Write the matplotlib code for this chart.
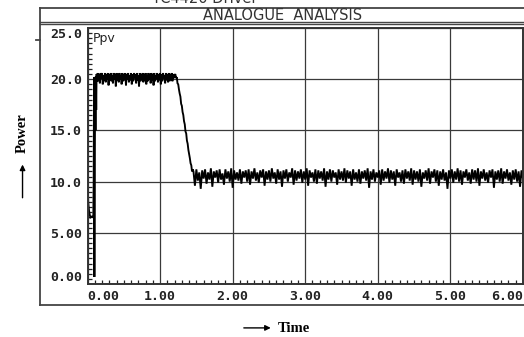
import numpy as np
import matplotlib.pyplot as plt
from matplotlib.lines import Line2D
from matplotlib.ticker import MultipleLocator

# start-up transient
t_start = [0.0, 0.005, 0.01, 0.02, 0.03, 0.04, 0.06, 0.08, 0.085, 0.09, 0.095,
           0.10, 0.105, 0.11, 0.115, 0.12, 0.125, 0.13]
p_start = [0.0, 9.0, 8.0, 7.2, 6.8, 6.5, 6.6, 6.5, 10.0, 20.2, 0.7,
           13.0, 19.5, 15.0, 20.3, 17.0, 20.5, 19.8]

# first plateau, 0.14 .. 1.20 s
p_high = [20.6, 19.8, 20.5, 19.6, 20.6, 20.1, 20.6, 19.5, 20.4, 19.9,
          20.6, 19.7, 20.5, 20.0, 20.6, 19.4, 20.5, 19.9, 20.6, 19.8,
          20.4, 19.6, 20.6, 20.0, 20.5, 19.3, 20.6, 19.9, 20.5, 19.7,
          20.6, 20.0, 20.4, 19.5, 20.6, 19.8, 20.5, 19.9, 20.6, 19.4,
          20.5, 20.0, 20.6, 19.7, 20.4, 19.9, 20.6, 19.5, 20.5, 19.8,
          20.6, 20.1, 20.5, 19.6, 20.6, 19.9, 20.4, 19.3, 20.6, 19.8,
          20.5, 20.0, 20.6, 19.7, 20.5, 19.9, 20.6, 19.5, 20.4, 19.8,
          20.6, 20.0, 20.5, 19.6, 20.6, 19.9, 20.5, 19.4, 20.6, 19.8,
          20.4, 20.0, 20.6, 19.7, 20.5, 19.9, 20.6, 19.5, 20.5, 19.8,
          20.6, 20.1, 20.4, 19.6, 20.6, 19.9, 20.5, 19.7, 20.6, 19.8,
          20.5, 20.0, 20.6, 19.8, 20.5, 20.1, 20.4]

# fall, 1.21 .. 1.45 s
p_fall = [20.5, 20.1, 20.2, 19.6, 19.5, 19.0, 18.6, 18.3, 17.6, 17.4, 16.8, 16.5,
          15.9, 15.6, 14.9, 14.7, 14.0, 13.7, 13.1, 12.7, 12.3, 11.8, 11.6, 11.0, 11.2]

# second plateau, 1.46 .. 6.00 s
p_low = [11.0, 9.6, 11.2, 10.1, 10.9, 9.3, 11.1, 10.3, 11.2, 9.8, 10.9, 10.2, 11.3, 9.5, 11.0, 10.4, 11.1, 9.9, 11.2,
         10.2, 10.8, 9.7, 11.2, 10.3, 11.0, 10.0, 11.3, 9.4, 11.1, 10.2, 10.9, 10.1, 11.2, 9.8, 11.0, 10.4, 11.1, 10.0,
         11.2, 9.7, 11.0, 10.3, 11.3, 10.1, 10.9, 9.9, 11.1, 10.4, 11.2, 9.6, 11.0, 10.2, 11.1, 10.0, 11.3, 10.3, 10.9,
         9.8, 11.2, 10.2, 11.0, 9.5, 11.1, 10.3, 11.2, 10.0, 10.9, 10.4, 11.3, 9.7, 11.1, 10.1, 11.0, 10.3, 11.2, 9.9,
         11.0, 10.2, 11.3, 9.6, 11.1, 10.4, 10.9, 10.0, 11.2, 9.8, 11.1, 10.3, 11.0, 10.1, 11.3, 9.5, 11.0, 10.2, 11.2,
         10.0, 11.1, 10.4, 10.9, 9.7, 11.2, 10.2, 11.0, 10.1, 11.3, 9.9, 11.1, 10.3, 11.0, 9.6, 11.2, 10.2, 10.9, 10.0,
         11.2, 9.8, 11.0, 10.3, 11.1, 10.1, 11.3, 9.4, 11.0, 10.2, 11.2, 10.0, 10.9, 10.4, 11.1, 9.7, 11.2, 10.1, 11.0,
         10.3, 11.3, 9.9, 11.1, 10.2, 11.0, 9.6, 11.2, 10.4, 10.9, 10.0, 11.1, 9.8, 11.2, 10.3, 11.0, 10.1, 11.3, 9.7,
         11.1, 10.2, 11.0, 10.0, 11.2, 9.5, 10.9, 10.3, 11.1, 10.1, 11.3, 9.8, 11.0, 10.4, 11.2, 10.0, 11.1, 9.6, 11.0,
         10.2, 11.2, 10.1, 10.9, 9.3, 11.1, 10.3, 11.2, 9.9, 11.0, 10.2, 11.3, 10.0, 11.1, 9.7, 11.0, 10.4, 11.2, 10.1,
         10.9, 9.8, 11.2, 10.2, 11.1, 10.0, 11.3, 9.6, 11.0, 10.3, 11.2, 10.1, 10.9, 9.9, 11.1, 10.4, 11.2, 9.4, 11.0,
         10.2, 11.1, 10.0, 11.3, 9.8, 11.0, 10.3, 11.2, 10.1, 10.9, 9.7, 11.1, 10.2, 11.2, 10.0, 11.0, 9.5, 11.1, 10.3]

x_ticks = [0, 1, 2, 3, 4, 5, 6]
x_labels = ["0.00", "1.00", "2.00", "3.00", "4.00", "5.00", "6.00"]
y_ticks = [0, 5, 10, 15, 20, 25]
y_labels = ["0.00", "5.00", "10.0", "15.0", "20.0", "25.0"]

t = np.concatenate([t_start,
                    np.linspace(0.14, 1.20, len(p_high)),
                    np.linspace(1.21, 1.45, len(p_fall)),
                    np.linspace(1.46, 6.00, len(p_low))])
p = np.concatenate([p_start, p_high, p_fall, p_low])

fig = plt.figure(figsize=(5.24, 3.37), dpi=100)
ax = fig.add_axes([0.167, 0.157, 0.831, 0.760])

ax.plot(t, p, color='black', lw=1.35, solid_joinstyle='miter')
ax.set_xlim(0, 6)
ax.set_ylim(0, 25)

grid_c = '#3a3a3a'
ax.set_xticks(x_ticks)
ax.set_yticks(y_ticks)
ax.grid(True, color=grid_c, lw=0.9)
ax.xaxis.set_minor_locator(MultipleLocator(0.1))
ax.yaxis.set_minor_locator(MultipleLocator(0.5))
ax.tick_params(which='major', length=0)
ax.tick_params(which='minor', direction='in', length=3, width=0.9, color='#222222')
ax.tick_params(axis='y', which='minor', left=True, right=False)
ax.tick_params(axis='x', which='minor', bottom=True, top=False)
for s in ax.spines.values():
    s.set_color('#333333')
    s.set_linewidth(1.4)

mono = dict(family='DejaVu Sans Mono', fontsize=9.5, fontweight='bold', color='#222222')
ax.set_xticklabels(x_labels, **mono)
ax.set_yticklabels(y_labels, **mono)
ax.tick_params(axis='x', pad=4)
ax.tick_params(axis='y', pad=4)
xl = ax.get_xticklabels()
xl[0].set_horizontalalignment('left')
xl[-1].set_horizontalalignment('right')
yl = ax.get_yticklabels()
yl[0].set_verticalalignment('bottom')
yl[-1].set_verticalalignment('top')

ax.text(0.012, 0.985, "Ppv", transform=ax.transAxes, ha='left', va='top',
        family='DejaVu Sans', fontsize=9, color='#222222')

# outer instrument frame and title bar
fr = '#444444'
fig.add_artist(Line2D([0.076, 0.076], [0.095, 0.976], color=fr, lw=1.3))
fig.add_artist(Line2D([0.076, 1.0], [0.095, 0.095], color=fr, lw=1.3))
fig.add_artist(Line2D([0.076, 1.0], [0.976, 0.976], color=fr, lw=1.3))
fig.add_artist(Line2D([0.076, 1.0], [0.935, 0.935], color=fr, lw=1.0))
fig.add_artist(Line2D([0.076, 1.0], [0.929, 0.929], color=fr, lw=1.0))
fig.add_artist(Line2D([0.068, 0.076], [0.881, 0.881], color=fr, lw=1.3))

fig.text(0.54, 0.953, "ANALOGUE  ANALYSIS", ha='center', va='center',
         family='DejaVu Sans', fontsize=10.5, color='#333333')
fig.text(0.39, 0.982, "TC4420 Driver", ha='center', va='bottom',
         family='DejaVu Sans', fontsize=10.5, color='#333333')

# axis captions
fig.text(0.043, 0.605, "Power", rotation=90, ha='center', va='center',
         family='Liberation Serif', fontweight='bold', fontsize=10.5)
ax.annotate('', xy=(0.043, 0.52), xytext=(0.043, 0.405),
            xycoords='figure fraction',
            arrowprops=dict(arrowstyle='-|>', color='black', lw=1.0, mutation_scale=8))
fig.text(0.560, 0.025, "Time", ha='center', va='center',
         family='Liberation Serif', fontweight='bold', fontsize=10.5)
ax.annotate('', xy=(0.522, 0.027), xytext=(0.460, 0.027),
            xycoords='figure fraction',
            arrowprops=dict(arrowstyle='-|>', color='black', lw=1.0, mutation_scale=8))

fig.savefig("out.png", dpi=100)
